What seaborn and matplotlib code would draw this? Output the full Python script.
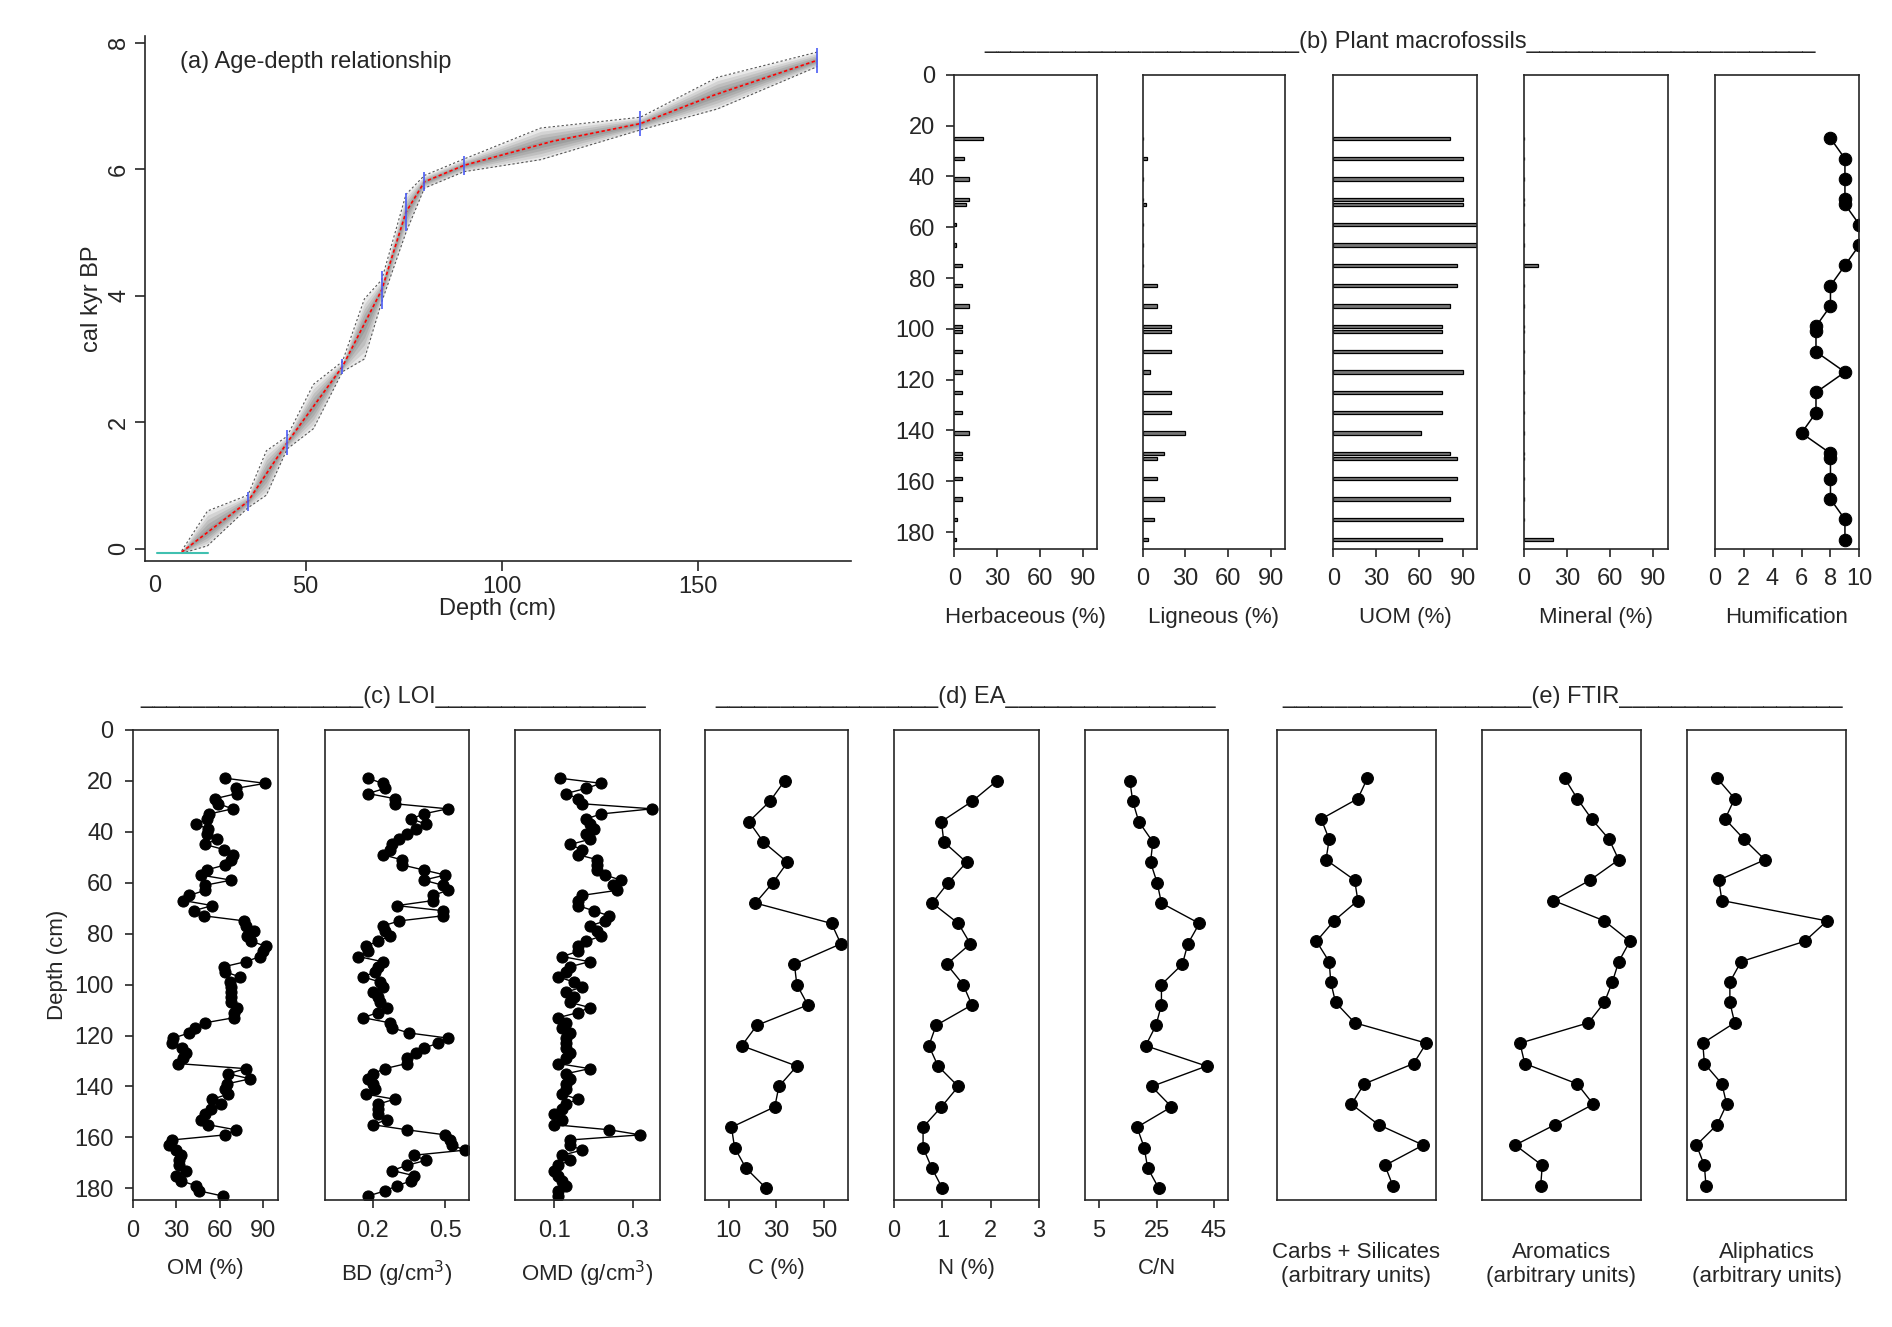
import numpy as np
import matplotlib
matplotlib.use("Agg")
import matplotlib.pyplot as plt
import seaborn as sns

# ---- (a) age-depth model ----
age_depth = [18.4, 35.3, 45.3, 59.4, 69.4, 75.6, 80.3, 90.4, 113, 135.4, 154.2, 180.5]
age_median = [-0.05, 0.75, 1.68, 2.88, 4.09, 5.32, 5.80, 6.06, 6.44, 6.72, 7.17, 7.72]
band_depth = [18.4, 25, 35.3, 40, 45.3, 52, 59.4, 65, 69.4, 75.6, 80.3, 90.4, 110, 135.4, 155, 180.5]
band_lo = [-0.07, 0.05, 0.65, 0.85, 1.58, 1.9, 2.8, 3.0, 3.9, 5.0, 5.7, 5.96, 6.15, 6.62, 6.95, 7.62]
band_hi = [-0.03, 0.6, 0.85, 1.55, 1.78, 2.6, 2.96, 3.95, 4.25, 5.6, 5.9, 6.16, 6.65, 6.82, 7.45, 7.85]
date_depth = [35.3, 45.3, 59.4, 69.4, 75.6, 80.3, 90.4, 135.4, 180.5]
date_age = [0.75, 1.68, 2.88, 4.09, 5.32, 5.80, 6.06, 6.72, 7.72]
date_err = [0.15, 0.2, 0.12, 0.3, 0.3, 0.15, 0.15, 0.2, 0.2]

# ---- (b) plant macrofossils ----
macro_depth = [25, 33, 41, 49, 51, 59, 67, 75, 83, 91, 99, 101, 109, 117, 125, 133,
               141, 149, 151, 159, 167, 175, 183]
herbaceous = [20, 7, 10, 10, 8, 1, 1, 5, 5, 10, 5, 5, 5, 5, 5, 5, 10, 5, 5, 5, 5, 2, 1]
ligneous = [0, 3, 0, 0, 2, 0, 0, 0, 10, 10, 20, 20, 20, 5, 20, 20, 30, 15, 10, 10, 15, 8, 4]
uom = [81, 90, 90, 90, 90, 100, 100, 86, 86, 81, 76, 76, 76, 90, 76, 76, 61, 81, 86, 86, 81, 90, 76]
mineral = [0, 0, 0, 0, 0, 0, 0, 10, 0, 0, 0, 0, 0, 0, 0, 0, 0, 0, 0, 0, 0, 0, 20]
humification = [8, 9, 9, 9, 9, 10, 10, 9, 8, 8, 7, 7, 7, 9, 7, 7, 6, 8, 8, 8, 8, 9, 9]

# ---- (c) LOI ----
loi_depth = [19, 21, 23, 25, 27, 29, 31, 33, 35, 37, 39, 41, 43, 45, 47, 49, 51, 53, 55, 57,
             59, 61, 63, 65, 67, 69, 71, 73, 75, 77, 79, 81, 83, 85, 87, 89, 91, 93, 95, 97,
             99, 101, 103, 105, 107, 109, 111, 113, 115, 117, 119, 121, 123, 125, 127, 129,
             131, 133, 135, 137, 139, 141, 143, 145, 147, 149, 151, 153, 155, 157, 159, 161,
             163, 165, 167, 169, 171, 173, 175, 177, 179, 181, 183]
om = [64, 91.5, 71, 72, 57, 59, 69, 53, 51, 44,
      52, 51, 58, 50, 63, 69, 68, 64, 51, 47,
      68, 50, 50, 39, 35, 55, 42, 49, 77, 78,
      84, 79, 82, 92, 90, 88, 78, 63, 64, 74,
      67, 68, 68, 68, 68, 72, 70, 70, 50, 43,
      39, 28, 27, 34, 37, 35, 31, 78, 66, 81,
      65, 64, 66, 55, 61, 54, 50, 47, 52, 71,
      64, 27, 25, 30, 33, 32, 32, 37, 30, 33,
      44, 46, 62]
bd = [.18, .24, .25, .18, .29, .29, .51, .41, .36, .42,
      .38, .34, .31, .28, .27, .24, .32, .32, .41, .50,
      .41, .49, .51, .45, .45, .30, .49, .49, .31, .24,
      .25, .27, .22, .17, .18, .14, .24, .22, .21, .16,
      .23, .24, .20, .22, .23, .26, .22, .16, .27, .28,
      .35, .51, .47, .41, .38, .34, .34, .25, .20, .18,
      .20, .21, .17, .29, .22, .22, .22, .26, .20, .34,
      .50, .52, .53, .58, .37, .42, .34, .28, .37, .36,
      .30, .25, .18]
omd = [.115, .22, .18, .13, .16, .17, .35, .22, .18, .19,
       .20, .18, .19, .14, .17, .16, .21, .21, .21, .23,
       .27, .25, .26, .17, .16, .16, .20, .24, .23, .19,
       .21, .22, .18, .16, .16, .12, .19, .14, .13, .11,
       .15, .17, .13, .15, .14, .19, .16, .11, .13, .12,
       .14, .13, .13, .13, .14, .13, .11, .19, .13, .14,
       .13, .13, .12, .16, .13, .12, .10, .12, .10, .24,
       .32, .14, .14, .17, .12, .14, .11, .10, .11, .12,
       .13, .11, .11]

# ---- (d) EA ----
ea_depth = [20, 28, 36, 44, 52, 60, 68, 76, 84, 92, 100, 108, 116, 124, 132, 140, 148, 156, 164, 172, 180]
carbon = [33.4, 27.3, 18.5, 24.5, 34.6, 28.5, 21.2, 53.0, 56.9, 37.5, 38.5, 43.1, 21.8, 15.5,
          38.5, 31.0, 29.3, 11.2, 12.5, 17.2, 25.7]
nitrogen = [2.13, 1.62, 0.98, 1.03, 1.50, 1.12, 0.79, 1.33, 1.58, 1.09, 1.43, 1.61, 0.87, 0.72,
            0.91, 1.33, 0.98, 0.60, 0.60, 0.78, 1.00]
cn_ratio = [15.7, 16.7, 18.8, 23.7, 22.9, 25.2, 26.7, 39.9, 35.9, 34.0, 26.7, 26.7, 24.8, 21.2,
            42.4, 23.3, 30.2, 18.2, 20.7, 21.9, 25.8]

# ---- (e) FTIR ----
ftir_depth = [19, 27, 35, 43, 51, 59, 67, 75, 83, 91, 99, 107, 115, 123, 131, 139, 147, 155, 163, 171, 179]
carbs = [0.57, 0.51, 0.28, 0.33, 0.31, 0.49, 0.51, 0.36, 0.25, 0.33, 0.34, 0.37, 0.49, 0.94,
         0.86, 0.55, 0.47, 0.64, 0.92, 0.68, 0.73]
aromatics = [0.52, 0.60, 0.69, 0.80, 0.86, 0.68, 0.45, 0.77, 0.93, 0.86, 0.82, 0.77, 0.67, 0.24,
             0.27, 0.60, 0.70, 0.46, 0.21, 0.38, 0.37]
aliphatics = [0.19, 0.30, 0.24, 0.36, 0.49, 0.20, 0.22, 0.88, 0.74, 0.34, 0.27, 0.27, 0.30, 0.10,
              0.11, 0.22, 0.25, 0.19, 0.06, 0.11, 0.12]

sns.set_style("ticks")
plt.rcParams['font.family'] = ['Liberation Sans', 'DejaVu Sans']
plt.rcParams['font.size'] = 16
plt.rcParams['axes.linewidth'] = 1.2

W, H = 1568.0, 1100.0  # layout measured on a scaled copy


def box(x0, x1, y0, y1):
    return [x0 / W, 1 - y1 / H, (x1 - x0) / W, (y1 - y0) / H]


fig = plt.figure(figsize=(18.92, 13.27), dpi=100)

# ---- panel (a) ----
ax = fig.add_axes(box(120, 705, 30, 465))
band_depth_a = np.array(band_depth)
med = np.interp(band_depth_a, age_depth, age_median)
lo = np.array(band_lo)
hi = np.array(band_hi)
for f in [1.0, 0.8, 0.6, 0.4, 0.2]:
    ax.fill_between(band_depth_a, med - (med - lo) * f, med + (hi - med) * f,
                    color='black', alpha=0.09, linewidth=0)
ax.plot(band_depth_a, lo, color='#555555', ls=(0, (2, 2)), lw=0.8)
ax.plot(band_depth_a, hi, color='#555555', ls=(0, (2, 2)), lw=0.8)
sns.lineplot(x=age_depth, y=age_median, color='red', ls=(0, (2, 1.5)), lw=1.2, ax=ax)
ax.errorbar(date_depth, date_age, yerr=date_err, fmt='none', ecolor='#4b5cf5', elinewidth=1.2)
ax.plot([12, 25], [-0.07, -0.07], color='#40c0b0', lw=1.5)
ax.set_xlim(9, 189)
ax.set_ylim(-0.19, 8.1)
ax.set_xticks([50, 100, 150])
ax.set_yticks([0, 2, 4, 6, 8])
ax.set_yticklabels(['0', '2', '4', '6', '8'], rotation=90, va='center')
ax.set_xlabel('Depth (cm)', fontsize=17, labelpad=0)
ax.set_ylabel('cal kyr BP', fontsize=17)
ax.tick_params(labelsize=17, length=7, width=1.2)
ax.text(11.5, -0.19, '0', fontsize=17, ha='center', va='top',
        transform=ax.transData + matplotlib.transforms.ScaledTranslation(0, -10 / 72, fig.dpi_scale_trans))
sns.despine(ax=ax)
ax.text(0.05, 0.95, '(a) Age-depth relationship', transform=ax.transAxes, fontsize=17, va='center')

# ---- panel (b) ----
b_boxes = [(791, 909), (947, 1065), (1105, 1224), (1263, 1382), (1421, 1541)]
b_series = [herbaceous, ligneous, uom, mineral]
b_labels = ['Herbaceous (%)', 'Ligneous (%)', 'UOM (%)', 'Mineral (%)', 'Humification']
for i, (x0, x1) in enumerate(b_boxes):
    ax = fig.add_axes(box(x0, x1, 62, 455))
    if i < 4:
        sns.barplot(x=b_series[i], y=macro_depth, orient='h', native_scale=True, width=0.65,
                    color='#777777', edgecolor='black', linewidth=0.9, errorbar=None, ax=ax)
        ax.set_xlim(0, 100)
        ax.set_xticks([0, 30, 60, 90])
    else:
        sns.lineplot(x=humification, y=macro_depth, orient='y', estimator=None, marker='o',
                     markersize=9, color='black', lw=1.1, markeredgecolor='black', ax=ax)
        ax.set_xlim(0, 10)
        ax.set_xticks([0, 2, 4, 6, 8, 10])
    ax.set_ylim(186.6, 0)
    ax.set_yticks(np.arange(0, 181, 20))
    ax.set_xlabel(b_labels[i], fontsize=16, labelpad=12)
    ax.set_ylabel('')
    ax.tick_params(labelsize=17, length=6, width=1.2, pad=8)
    if i > 0:
        ax.tick_params(axis='y', left=False, labelleft=False)
fig.text(1160 / W, 1 - 40 / H, '_' * 24 + '(b) Plant macrofossils' + '_' * 22,
         ha='center', va='baseline', fontsize=17)

# ---- panels (c), (d), (e) ----
c_boxes = [(110, 230), (269, 389), (427, 547), (584, 703), (741, 861), (899, 1018),
           (1058, 1190), (1228, 1360), (1398, 1530)]
c_series = [(om, loi_depth), (bd, loi_depth), (omd, loi_depth), (carbon, ea_depth),
            (nitrogen, ea_depth), (cn_ratio, ea_depth), (carbs, ftir_depth),
            (aromatics, ftir_depth), (aliphatics, ftir_depth)]
c_xlim = [(0, 100), (0, 0.6), (0, 0.37), (0, 60), (0, 3), (0, 50), (0, 1), (0, 1), (0, 1)]
c_ticks = [[0, 30, 60, 90], [0.2, 0.5], [0.1, 0.3], [10, 30, 50], [0, 1, 2, 3], [5, 25, 45], [], [], []]
c_labels = ['OM (%)', 'BD (g/cm$^3$)', 'OMD (g/cm$^3$)', 'C (%)', 'N (%)', 'C/N',
            'Carbs + Silicates\n(arbitrary units)', 'Aromatics\n(arbitrary units)',
            'Aliphatics\n(arbitrary units)']
for i, (x0, x1) in enumerate(c_boxes):
    ax = fig.add_axes(box(x0, x1, 605, 995))
    vals, dep = c_series[i]
    ms = 8 if i < 3 else 8.5
    sns.lineplot(x=vals, y=dep, orient='y', estimator=None, marker='o', markersize=ms,
                 color='black', lw=1.0, markeredgecolor='black', ax=ax)
    ax.set_xlim(*c_xlim[i])
    ax.set_xticks(c_ticks[i])
    ax.set_ylim(184.7, 0)
    ax.set_yticks(np.arange(0, 181, 20))
    ax.set_xlabel(c_labels[i], fontsize=16, labelpad=12 if i < 6 else 30)
    ax.set_ylabel('')
    ax.tick_params(labelsize=17, length=6, width=1.2, pad=8)
    if i > 0:
        ax.tick_params(axis='y', left=False, labelleft=False)
    else:
        ax.set_ylabel('Depth (cm)', fontsize=16, labelpad=4)

fig.text(326 / W, 1 - 583 / H, '_' * 17 + '(c) LOI' + '_' * 16, ha='center', va='baseline', fontsize=17)
fig.text(800 / W, 1 - 583 / H, '_' * 17 + '(d) EA' + '_' * 16, ha='center', va='baseline', fontsize=17)
fig.text(1295 / W, 1 - 583 / H, '_' * 19 + '(e) FTIR' + '_' * 17, ha='center', va='baseline', fontsize=17)

fig.savefig('out.png', dpi=100)
